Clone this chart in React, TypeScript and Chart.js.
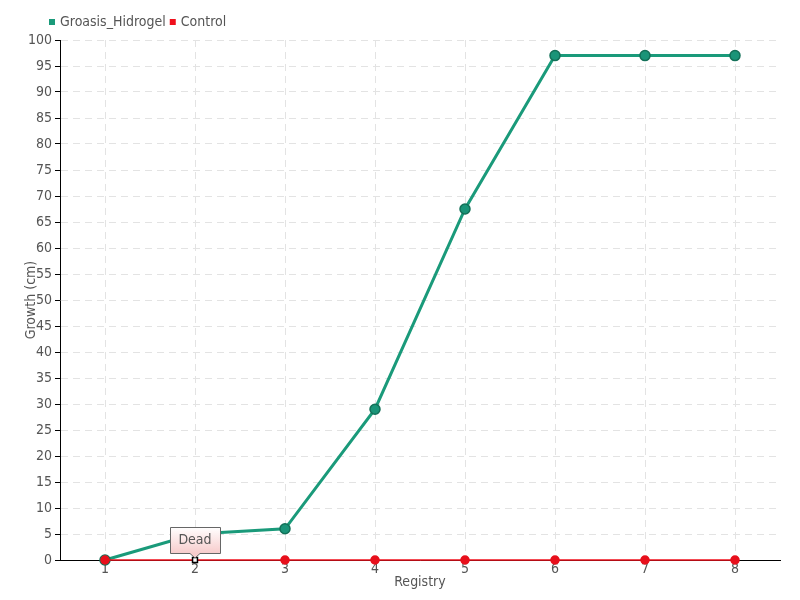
import React, { useEffect, useRef } from "react";
import { Chart, registerables } from "chart.js";

Chart.register(...registerables);

const categories = ["1", "2", "3", "4", "5", "6", "7", "8"];
const groasisValues = [0, 5, 6, 29, 67.5, 97, 97, 97];
const controlValues = [0, 0, 0, 0, 0, 0, 0, 0];
const annotationIndex = 1;
const annotationText = "Dead";

const FAMILY = "'DejaVu Sans Condensed', 'DejaVu Sans', sans-serif";
const mkFont = (size: number) => ({ family: FAMILY, size, style: "condensed" as any });

const deadNote = {
  id: "deadNote",
  afterLayout(chart: any) {
    if (chart.legend) {
      chart.legend.left += 45;
      chart.legend.top -= 1;
    }
  },
  afterDatasetsDraw(chart: any) {
    const ctx = chart.ctx;
    const xs = chart.scales.x;
    const ys = chart.scales.y;
    const px = xs.getPixelForValue(annotationIndex);
    const py = ys.getPixelForValue(controlValues[annotationIndex]);
    const w = 50, h = 26, caret = 5;
    const left = px - 25, bottom = py - 7, top = bottom - h;
    ctx.save();
    const g = ctx.createLinearGradient(0, top, 0, bottom);
    g.addColorStop(0, "#ffffff");
    g.addColorStop(1, "#f7cccc");
    ctx.beginPath();
    ctx.moveTo(left + 0.5, top + 0.5);
    ctx.lineTo(left + w + 0.5, top + 0.5);
    ctx.lineTo(left + w + 0.5, bottom + 0.5);
    ctx.lineTo(px + caret, bottom + 0.5);
    ctx.lineTo(px, bottom + caret);
    ctx.lineTo(px - caret, bottom + 0.5);
    ctx.lineTo(left + 0.5, bottom + 0.5);
    ctx.closePath();
    ctx.fillStyle = g;
    ctx.fill();
    ctx.strokeStyle = "#666";
    ctx.lineWidth = 1;
    ctx.stroke();
    ctx.fillStyle = "#555";
    ctx.font = "condensed 14px " + FAMILY;
    ctx.textAlign = "center";
    ctx.textBaseline = "middle";
    ctx.fillText(annotationText, px, top + h / 2);
    ctx.restore();
  },
};

export default function App() {
  const ref = useRef<HTMLCanvasElement>(null);
  useEffect(() => {
    const c = new Chart(ref.current!, {
      type: "line",
      data: {
        labels: categories,
        datasets: [
          {
            label: "Control",
            data: controlValues,
            borderColor: "#f0101c",
            backgroundColor: controlValues.map((_, i) => (i === annotationIndex ? "#ffffff" : "#e8101c")),
            pointBorderColor: controlValues.map((_, i) => (i === annotationIndex ? "#000000" : "#e8101c")),
            pointStyle: controlValues.map((_, i) => (i === annotationIndex ? "rect" : "circle")) as any,
            pointRadius: controlValues.map((_, i) => (i === annotationIndex ? 3.5 : 4)),
            pointBorderWidth: 1.5,
            borderWidth: 1.5,
            tension: 0,
            clip: false,
          } as any,
          {
            label: "Groasis_Hidrogel",
            data: groasisValues,
            borderColor: "#1a9a7a",
            backgroundColor: "#1a9478",
            pointBorderColor: "#137058",
            pointRadius: 5,
            pointBorderWidth: 1.5,
            borderWidth: 3,
            tension: 0,
            clip: false,
          } as any,
        ],
      },
      options: {
        animation: false,
        responsive: false,
        layout: { padding: { left: 0, right: 20, top: 10, bottom: 0 } },
        plugins: {
          legend: {
            display: true,
            position: "top",
            align: "start",
            reverse: true,
            labels: {
              usePointStyle: true,
              pointStyle: "rect",
              boxWidth: 2,
              boxHeight: 6,
              padding: 6,
              color: "#555",
              font: mkFont(14),
              generateLabels: (chart: any) =>
                chart.data.datasets.map((d: any, i: number) => ({
                  text: d.label,
                  fillStyle: d.borderColor,
                  strokeStyle: d.borderColor,
                  lineWidth: 0,
                  pointStyle: "rect",
                  datasetIndex: i,
                  fontColor: "#555",
                })),
            },
          },
          tooltip: { enabled: false },
        },
        scales: {
          x: {
            offset: true,
            grid: { color: "#e3e3e3", drawTicks: false, offset: false } as any,
            border: { color: "#000", width: 1, dash: [7, 5] as any },
            ticks: { color: "#555", padding: 1, font: mkFont(14) },
            title: { display: true, text: "Registry", color: "#555", font: mkFont(14), padding: { top: 0, bottom: 9 } },
            afterFit: (s: any) => { s.height = 40; },
          },
          y: {
            min: 0,
            max: 100,
            ticks: { stepSize: 5, color: "#555", padding: 3, font: mkFont(14) },
            grid: { color: "#e3e3e3", tickColor: "#000", tickLength: 5, tickBorderDash: [] } as any,
            border: { color: "#000", width: 1, dash: [7, 5] as any },
            title: { display: true, text: "Growth (cm)", color: "#555", font: mkFont(14), padding: { top: 23, bottom: 0 } },
            afterFit: (s: any) => { s.width = 60; },
          },
        },
      } as any,
      plugins: [deadNote],
    });
    return () => c.destroy();
  }, []);
  return (
    <div style={{ position: "absolute", left: 0, top: 0, width: 800, height: 600, background: "#fff" }}>
      <canvas ref={ref} width={800} height={600} />
    </div>
  );
}
